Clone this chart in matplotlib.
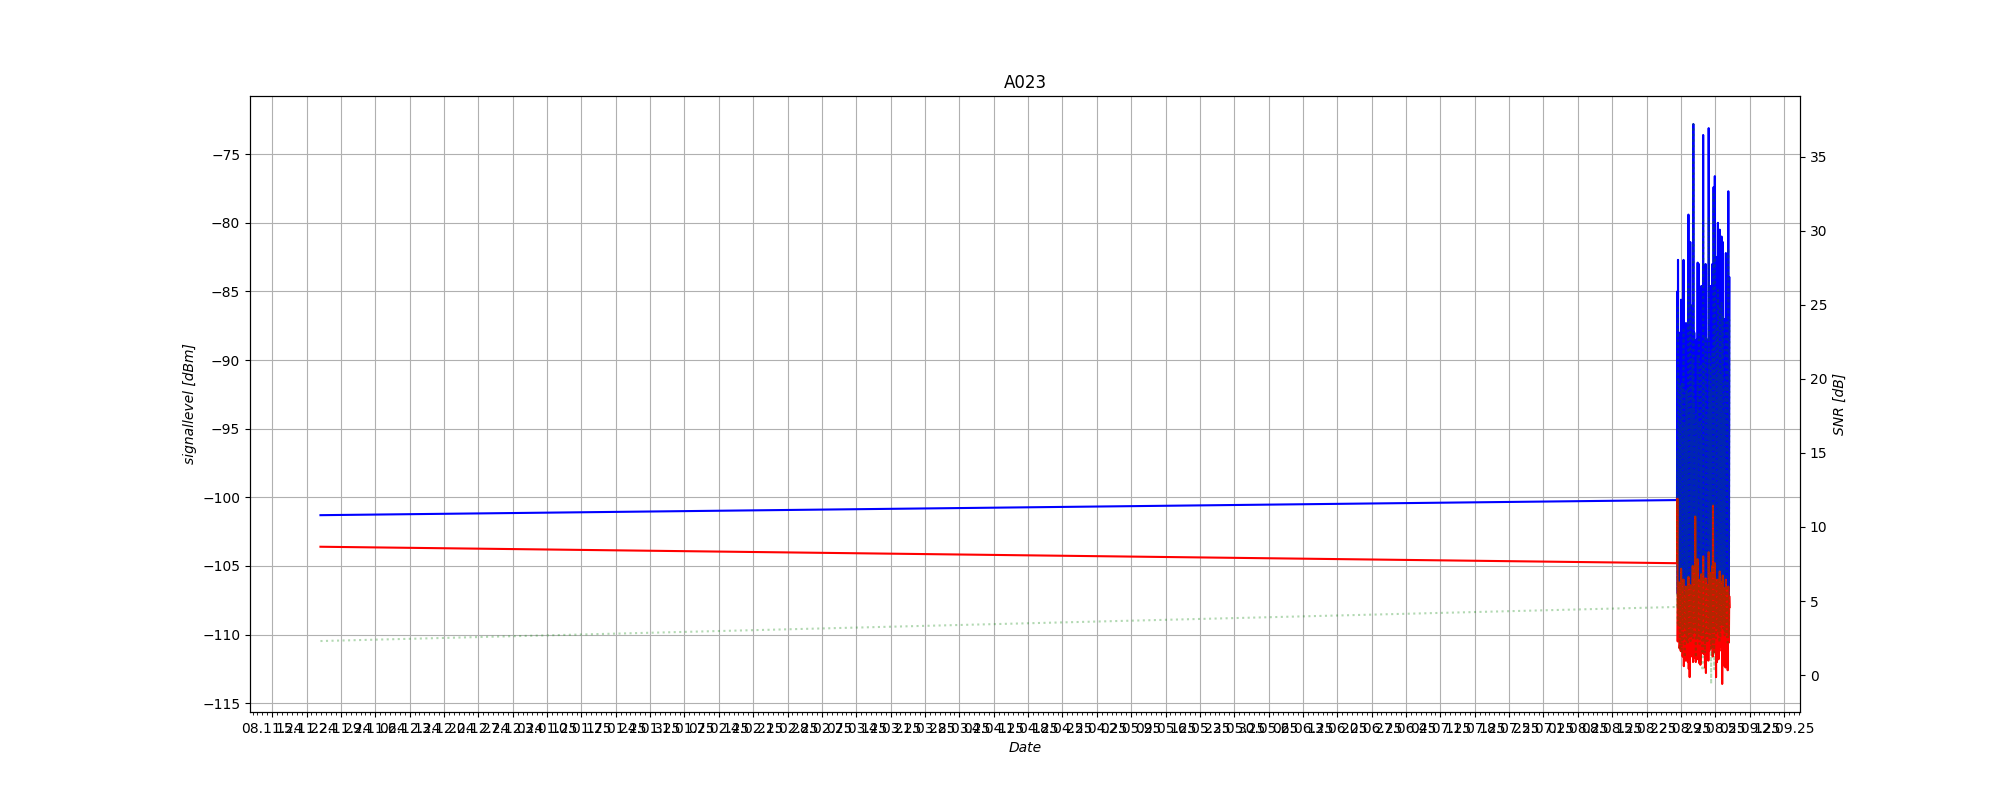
import matplotlib
matplotlib.use('Agg')
import matplotlib.pyplot as plt
import matplotlib.dates as mdates
import numpy as np
import pandas as pd

# long gap: first reading in November, then next one just before the dense block
head_times = ['2024-11-17 20:00', '2025-08-21 05:00']
head_signal = [-101.3, -100.2]
head_noise = [-103.6, -104.8]

# dense block, one reading every 1.5 hours
dense_start = '2025-08-21 07:00'
dense_step = '90min'
dense_signal = [
    -85.0, -107.0, -82.7, -96.0, -106.5, -88.0, -95.0, -107.5,
    -108.9, -90.0, -99.0, -108.0, -85.6, -100.0, -109.5, -89.0,
    -97.0, -108.5, -107.8, -93.0, -82.7, -109.0, -104.0, -90.5,
    -110.2, -98.0, -92.0, -109.0, -87.3, -100.0, -108.6, -90.0,
    -101.0, -107.0, -109.8, -95.0, -79.4, -109.5, -103.5, -88.0,
    -110.5, -96.0, -81.4, -109.0, -106.0, -89.0, -96.0, -108.0,
    -109.0, -86.0, -88.0, -109.5, -72.8, -100.0, -108.0, -88.0,
    -98.0, -108.5, -95.0, -90.0, -110.8, -93.0, -105.5, -88.5,
    -109.3, -98.0, -82.9, -109.0, -107.0, -88.0, -83.0, -106.0,
    -110.0, -89.0, -94.0, -109.0, -108.4, -95.0, -84.6, -108.0,
    -104.0, -91.0, -109.7, -97.0, -73.6, -109.0, -106.5, -86.0,
    -91.0, -108.0, -110.9, -95.0, -83.0, -109.5, -107.5, -89.0,
    -99.0, -108.0, -109.2, -97.0, -88.5, -109.0, -73.1, -92.0,
    -108.8, -88.0, -96.5, -108.0, -84.6, -99.0, -110.3, -87.0,
    -102.0, -108.5, -83.0, -109.0, -92.0, -106.0, -77.4, -96.0,
    -109.5, -90.0, -76.6, -108.0, -105.0, -88.0, -110.6, -96.0,
    -82.5, -109.0, -106.8, -91.0, -80.0, -105.0, -109.0, -87.0,
    -93.0, -109.0, -80.5, -97.0, -108.2, -86.0, -100.5, -107.5,
    -81.0, -95.0, -110.1, -92.0, -81.4, -109.0, -106.0, -89.0,
    -97.5, -107.0, -109.6, -94.0, -87.0, -109.5, -82.2, -104.0,
    -108.5, -86.0, -95.0, -109.0, -110.4, -92.0, -77.7, -108.0,
    -104.5, -93.0, -84.0,
]
dense_noise = [
    -100.1, -110.5, -107.5, -106.5, -109.8, -108.0, -106.2, -111.0,
    -110.6, -106.8, -107.0, -111.2, -105.2, -107.0, -111.0, -108.8,
    -108.5, -111.6, -110.2, -106.0, -106.0, -112.3, -109.5, -107.4,
    -111.4, -108.6, -107.2, -111.9, -106.5, -106.7, -110.8, -109.3,
    -108.0, -110.6, -112.0, -107.1, -105.8, -112.5, -109.0, -107.0,
    -113.1, -109.6, -106.4, -111.3, -110.5, -106.9, -107.8, -110.8,
    -111.6, -107.4, -105.0, -112.0, -110.0, -108.1, -110.9, -106.6,
    -108.3, -111.7, -101.4, -107.3, -112.0, -108.9, -109.6, -106.3,
    -111.8, -109.1, -104.5, -111.5, -110.4, -107.2, -106.0, -110.3,
    -112.1, -106.1, -107.5, -112.2, -111.0, -108.4, -105.6, -110.9,
    -109.2, -106.8, -110.0, -108.3, -104.3, -111.4, -110.0, -107.0,
    -107.0, -111.1, -112.4, -107.7, -105.9, -112.8, -109.8, -106.4,
    -108.1, -110.7, -111.5, -108.0, -106.4, -111.9, -104.0, -106.7,
    -111.2, -109.5, -107.6, -111.0, -105.5, -107.3, -109.7, -106.2,
    -108.7, -110.4, -105.0, -111.6, -100.6, -109.0, -110.0, -107.6,
    -109.9, -106.9, -104.8, -111.3, -109.4, -108.2, -113.1, -107.5,
    -106.0, -112.0, -110.2, -106.5, -106.0, -109.7, -111.8, -107.8,
    -107.9, -111.2, -105.4, -108.5, -110.7, -106.3, -108.2, -110.9,
    -106.2, -107.0, -113.6, -109.4, -105.7, -112.1, -110.5, -106.6,
    -108.6, -110.2, -112.3, -108.1, -106.9, -112.4, -106.0, -107.9,
    -111.4, -106.8, -108.0, -111.5, -112.6, -108.7, -106.5, -110.6,
    -110.0, -107.2, -108.0,
]

dense_times = pd.date_range(dense_start, periods=len(dense_signal), freq=dense_step)
times = pd.to_datetime(head_times).append(dense_times)
signal = np.array(head_signal + dense_signal)
noise = np.array(head_noise + dense_noise)
snr = signal - noise

fig, ax1 = plt.subplots(figsize=(20, 8), dpi=100)
ax1.plot(times, signal, 'b-', lw=1.5)
ax1.plot(times, noise, 'r-', lw=1.5)
ax1.set_ylabel('signallevel [dBm]', style='italic')
ax1.set_xlabel('Date', style='italic')
ax1.set_title('A023')
ax1.grid(True)

ax1.xaxis.set_major_locator(mdates.WeekdayLocator(byweekday=mdates.FR))
ax1.xaxis.set_minor_locator(mdates.DayLocator())
ax1.xaxis.set_major_formatter(mdates.DateFormatter('%d.%m.%y'))

ax2 = ax1.twinx()
ax2.plot(times, snr, 'g:', lw=1.5, alpha=0.3)
ax2.set_ylabel('SNR [dB]', style='italic')

plt.savefig('out.png')
